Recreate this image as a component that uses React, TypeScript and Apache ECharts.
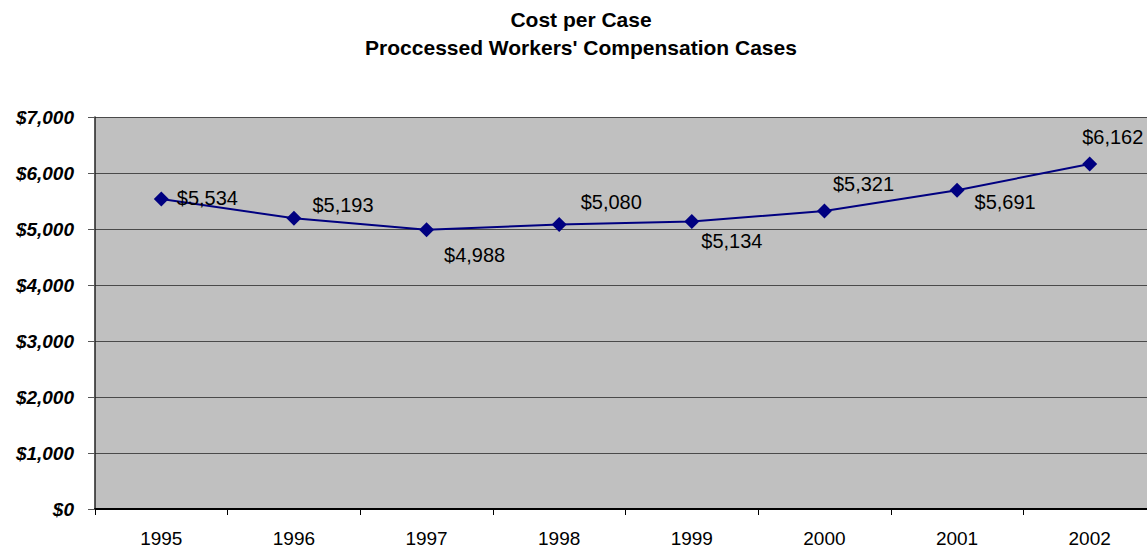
import React, { useEffect, useRef } from "react";
import * as echarts from "echarts";

const years = ["1995", "1996", "1997", "1998", "1999", "2000", "2001", "2002"];
const costPerCase = [5534, 5193, 4988, 5080, 5134, 5321, 5691, 6162];
const labelOffsets: [number, number][] = [
  [3, -1],
  [6, -13],
  [5, 25],
  [9, -23],
  [-3, 20],
  [-4, -27],
  [5, 12],
  [-20, -27],
];
const titleLines = ["Cost per Case", "Proccessed Workers' Compensation Cases"];

const fmt = (v: number) => "$" + v.toLocaleString("en-US");

export default function App() {
  const ref = useRef<HTMLDivElement>(null);
  useEffect(() => {
    document.body.style.margin = "0";
    if (!ref.current) return;
    const chart = echarts.init(ref.current, undefined, { renderer: "svg" });
    chart.setOption({
      animation: false,
      backgroundColor: "#ffffff",
      title: {
        text: titleLines.join("\n"),
        left: "center",
        top: 0,
        textStyle: {
          fontFamily: "Liberation Sans, Arial, sans-serif",
          fontWeight: "bold",
          fontSize: 21,
          lineHeight: 28,
          color: "#000",
        },
      },
      grid: { left: 95, top: 117, width: 1061, bottom: 44, containLabel: false },
      xAxis: {
        type: "category",
        data: years,
        boundaryGap: true,
        axisLine: { show: true, lineStyle: { color: "#000", width: 2 } },
        axisTick: { show: true, alignWithLabel: false, length: 6, lineStyle: { color: "#000" } },
        axisLabel: {
          fontFamily: "Liberation Sans, Arial, sans-serif",
          fontSize: 19,
          color: "#000",
          margin: 20,
        },
        splitLine: { show: false },
      },
      yAxis: {
        type: "value",
        min: 0,
        max: 7000,
        interval: 1000,
        axisLine: { show: true, lineStyle: { color: "#222", width: 1.5 } },
        axisTick: { show: true, length: 7, lineStyle: { color: "#555" } },
        axisLabel: {
          formatter: (v: number) => fmt(v),
          fontFamily: "Liberation Sans, Arial, sans-serif",
          fontSize: 19,
          fontWeight: "bold",
          fontStyle: "italic",
          color: "#000",
          margin: 21,
        },
        splitLine: { show: true, lineStyle: { color: "#4a4a4a", width: 1 } },
        splitArea: { show: true, areaStyle: { color: ["#c0c0c0", "#c0c0c0"] } },
      },
      series: [
        {
          type: "line",
          data: costPerCase.map((v, i) => ({
            value: v,
            label: { offset: labelOffsets[i] },
          })),
          symbol: "diamond",
          symbolSize: 15,
          lineStyle: { color: "#000080", width: 2 },
          itemStyle: { color: "#000080" },
          label: {
            show: true,
            position: "right",
            formatter: (p: any) => fmt(p.value),
            fontFamily: "Liberation Sans, Arial, sans-serif",
            fontSize: 20,
            color: "#000",
          },
        },
      ],
    });
    return () => chart.dispose();
  }, []);
  return (
    <div style={{ width: 1147, height: 553, overflow: "hidden" }}>
      <div ref={ref} style={{ width: 1162, height: 553 }} />
    </div>
  );
}
